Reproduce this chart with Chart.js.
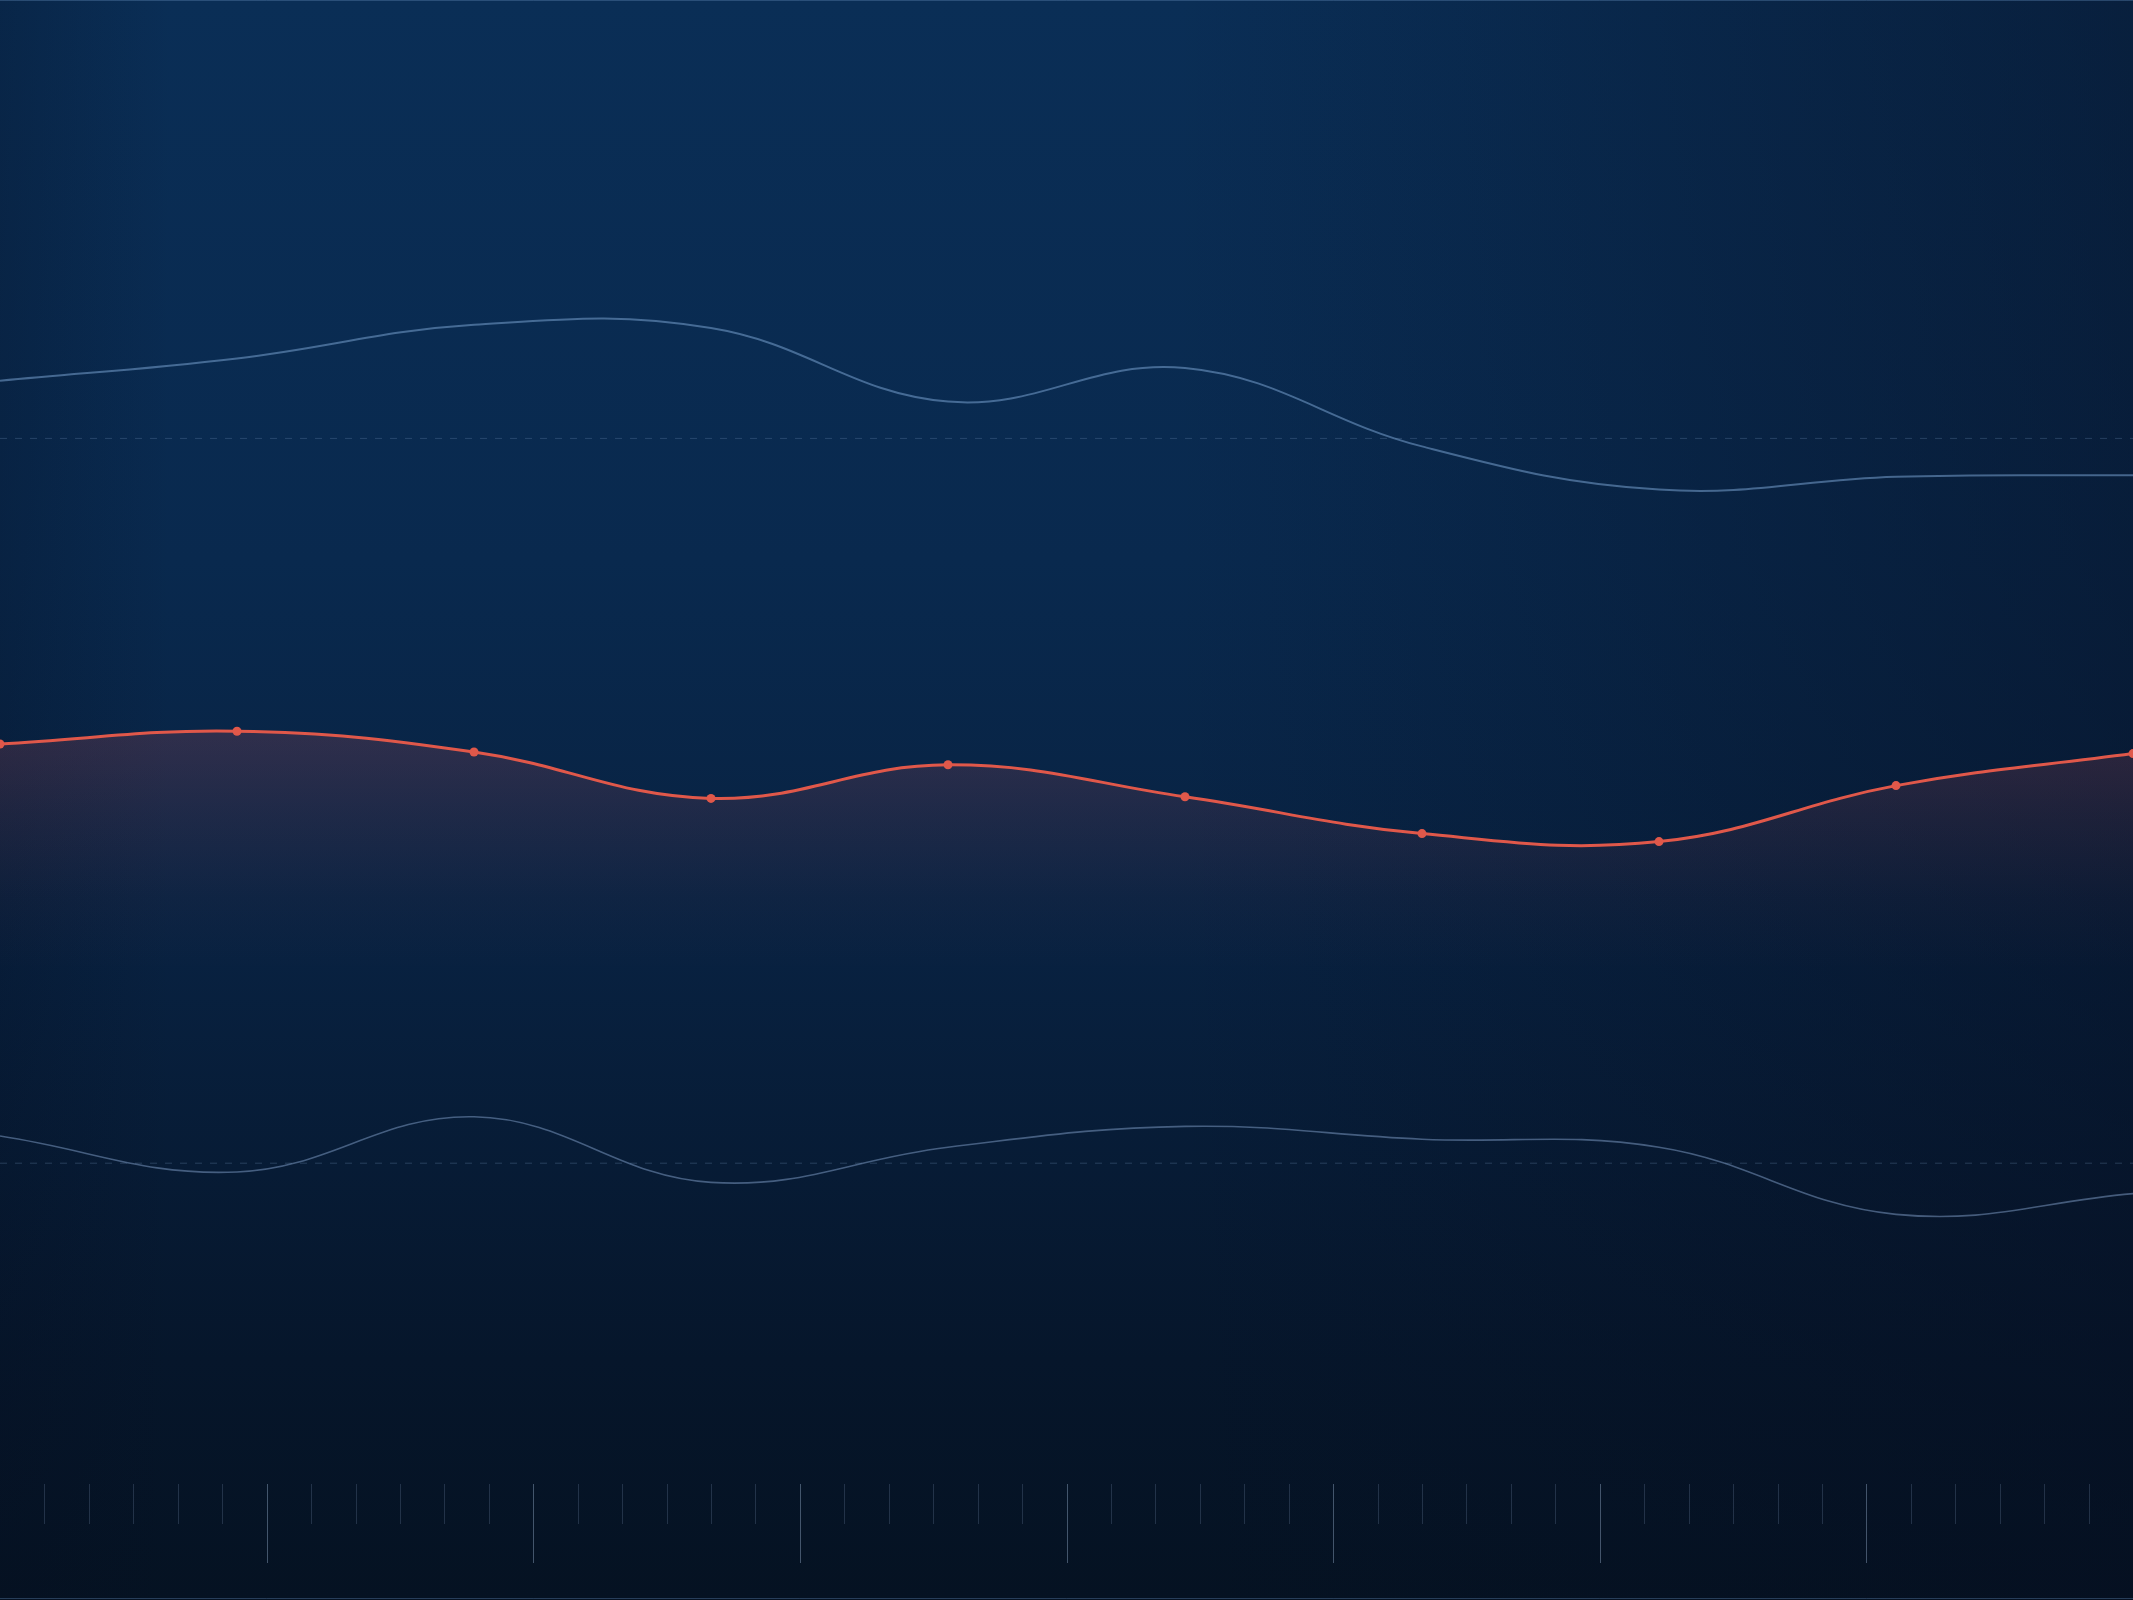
<!DOCTYPE html>
<html>
<head>
<meta charset="utf-8">
<script src="https://cdn.jsdelivr.net/npm/chart.js@4/dist/chart.umd.min.js"></script>
<style>
    html, body { margin: 0; padding: 0; background: #071a33; overflow: hidden; }
    #wrap { width: 2133px; height: 1600px; position: relative; }
</style>
</head>
<body>
<div id="wrap"><canvas id="waveChart"></canvas></div>
<script>
// Chart data (values on a 0-100 index scale)
const categories = ['Jan', 'Feb', 'Mar', 'Apr', 'May', 'Jun', 'Jul', 'Aug', 'Sep', 'Oct'];
const upperSeries = [76.2, 77.6, 79.7, 79.5, 74.9, 77.0, 72.1, 69.4, 70.2, 70.3];
const mainSeries = [53.5, 54.3, 53.0, 50.1, 52.2, 50.2, 47.9, 47.4, 50.9, 52.9];
const lowerSeries = [29.0, 26.75, 30.2, 26.1, 28.3, 29.6, 28.8, 28.3, 24.1, 25.4];
const upperRef = 72.6;
const lowerRef = 27.3;
const yRange = [0, 100];

// Ruler along the bottom
const rulerSteps = 48;
const rulerMajorEvery = 6;

// Background gradient painted behind everything
const backgroundPlugin = {
    id: 'bgPaint',
    beforeDraw(chart) {
        const { ctx, width, height } = chart;
        ctx.save();
        let g = ctx.createLinearGradient(0, 0, 0, height);
        g.addColorStop(0, '#0a2e56');
        g.addColorStop(0.35, '#09294e');
        g.addColorStop(0.6, '#082140');
        g.addColorStop(0.85, '#06162b');
        g.addColorStop(1, '#051222');
        ctx.fillStyle = g;
        ctx.fillRect(0, 0, width, height);

        // darker edges, mostly on the right
        g = ctx.createLinearGradient(0, 0, width, 0);
        g.addColorStop(0, 'rgba(5,14,32,0.25)');
        g.addColorStop(0.08, 'rgba(5,14,32,0)');
        g.addColorStop(0.55, 'rgba(5,14,32,0)');
        g.addColorStop(1, 'rgba(6,14,32,0.45)');
        ctx.fillStyle = g;
        ctx.fillRect(0, 0, width, height);

        // thin frame lines top / bottom
        ctx.strokeStyle = 'rgba(90,130,175,0.4)';
        ctx.lineWidth = 1;
        ctx.beginPath();
        ctx.moveTo(0, 0.5); ctx.lineTo(width, 0.5);
        ctx.moveTo(0, height - 1.5); ctx.lineTo(width, height - 1.5);
        ctx.stroke();
        ctx.restore();
    }
};

// Ruler ticks drawn from the hidden 'ruler' scale
const rulerPlugin = {
    id: 'ruler',
    afterDatasetsDraw(chart) {
        const { ctx } = chart;
        const scale = chart.scales.ruler;
        ctx.save();
        ctx.lineWidth = 1;
        for (let k = 1; k < rulerSteps; k++) {
            const x = Math.round(scale.getPixelForValue(k)) + 0.5;
            const major = k % rulerMajorEvery === 0;
            ctx.strokeStyle = major ? 'rgba(160,185,215,0.4)' : 'rgba(140,165,200,0.22)';
            ctx.beginPath();
            ctx.moveTo(x, 1484);
            ctx.lineTo(x, major ? 1563 : 1524);
            ctx.stroke();
        }
        ctx.restore();
    }
};

const ctx = document.getElementById('waveChart').getContext('2d');
new Chart(ctx, {
    type: 'line',
    data: {
        labels: categories,
        datasets: [
            {
                label: 'Upper reference',
                data: categories.map(() => upperRef),
                borderColor: 'rgba(120,150,190,0.28)',
                borderWidth: 1,
                borderDash: [7, 8],
                pointRadius: 0,
                tension: 0
            },
            {
                label: 'Lower reference',
                data: categories.map(() => lowerRef),
                borderColor: 'rgba(120,150,190,0.3)',
                borderWidth: 1,
                borderDash: [7, 8],
                pointRadius: 0,
                tension: 0
            },
            {
                label: 'Upper',
                data: upperSeries,
                borderColor: 'rgba(110,150,195,0.6)',
                borderWidth: 2,
                pointRadius: 0,
                tension: 0.4
            },
            {
                label: 'Lower',
                data: lowerSeries,
                borderColor: 'rgba(120,150,190,0.55)',
                borderWidth: 1.6,
                pointRadius: 0,
                tension: 0.4
            },
            {
                label: 'Main',
                data: mainSeries,
                borderColor: '#e0584a',
                borderWidth: 3,
                pointRadius: 4.5,
                pointBackgroundColor: '#e0584a',
                pointBorderWidth: 0,
                tension: 0.4,
                fill: 'start',
                backgroundColor: (c) => {
                    const area = c.chart.chartArea;
                    if (!area) return 'rgba(200,85,85,0.12)';
                    const g = c.chart.ctx.createLinearGradient(0, 730, 0, 970);
                    g.addColorStop(0, 'rgba(190,80,90,0.22)');
                    g.addColorStop(0.35, 'rgba(190,80,90,0.12)');
                    g.addColorStop(0.7, 'rgba(190,80,90,0.04)');
                    g.addColorStop(1, 'rgba(190,80,90,0)');
                    return g;
                }
            }
        ]
    },
    options: {
        responsive: true,
        maintainAspectRatio: false,
        animation: false,
        layout: { padding: 0, autoPadding: false },
        plugins: {
            legend: { display: false },
            tooltip: { enabled: false }
        },
        scales: {
            x: { display: false, offset: false },
            y: { display: false, min: yRange[0], max: yRange[1] },
            ruler: { type: 'linear', axis: 'x', display: false, min: 0, max: rulerSteps }
        }
    },
    plugins: [backgroundPlugin, rulerPlugin]
});
</script>
</body>
</html>
